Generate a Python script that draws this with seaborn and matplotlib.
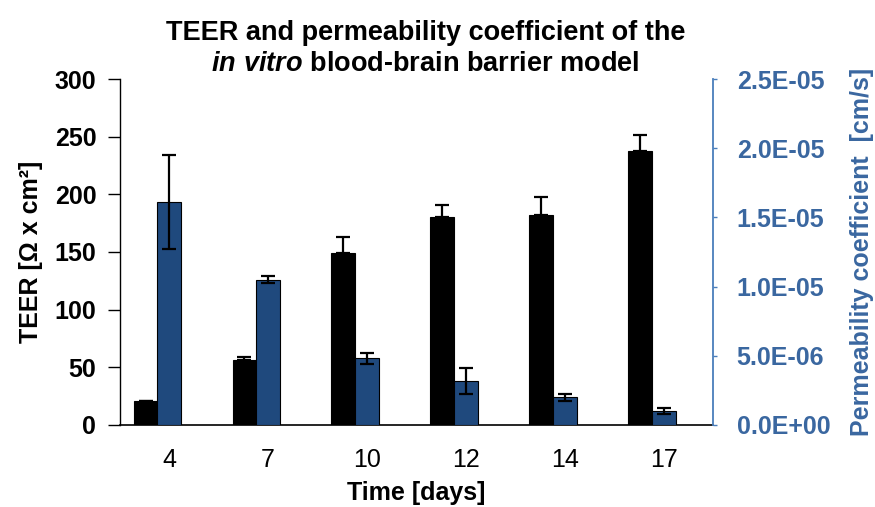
import numpy as np
import pandas as pd
import matplotlib
matplotlib.use("Agg")
import matplotlib.pyplot as plt
import seaborn as sns

days = ["4", "7", "10", "12", "14", "17"]
teer = [20.8, 56.4, 149.4, 180.6, 182.3, 237.8]
teer_err = [0.0, 2.4, 13.9, 10.4, 15.6, 13.9]
perm = [1.61e-05, 1.05e-05, 4.8e-06, 3.2e-06, 2.0e-06, 1.0e-06]
perm_err = [3.4e-06, 2.5e-07, 3.7e-07, 9.4e-07, 2.4e-07, 2.2e-07]

sns.set_style("white")
plt.rcParams["font.family"] = ["Liberation Sans", "DejaVu Sans"]
plt.rcParams["text.color"] = "black"
plt.rcParams["axes.labelcolor"] = "black"
plt.rcParams["xtick.color"] = "black"
plt.rcParams["ytick.color"] = "black"
plt.rcParams["mathtext.fontset"] = "custom"
plt.rcParams["mathtext.it"] = "Liberation Sans:italic:bold"
plt.rcParams["mathtext.rm"] = "Liberation Sans:bold"

BLUE_BAR = "#1f497d"
BLUE_AX = "#4a7ebb"
BLUE_TXT = "#3a67a0"
FS = 18

fig = plt.figure(figsize=(8.75, 5.07), dpi=100)
ax1 = fig.add_axes([0.137, 0.162, 0.678, 0.682])
ax2 = ax1.twinx()

idx = np.arange(len(days))
df = pd.DataFrame({"day": days, "teer": teer, "perm": perm,
                   "x_teer": idx - 0.24, "x_perm": idx + 0.0})

sns.barplot(data=df, x="x_teer", y="teer", native_scale=True, width=0.24,
            color="black", edgecolor="black", linewidth=0.8, saturation=1,
            errorbar=None, ax=ax1)
sns.barplot(data=df, x="x_perm", y="perm", native_scale=True, width=0.24,
            color=BLUE_BAR, edgecolor="black", linewidth=0.8, saturation=1,
            errorbar=None, ax=ax2)

ax1.errorbar(df["x_teer"], df["teer"], yerr=[np.zeros(len(days)), teer_err],
             fmt="none", ecolor="black", elinewidth=1.6, capsize=5, capthick=1.6)
ax2.errorbar(df["x_perm"], df["perm"], yerr=perm_err,
             fmt="none", ecolor="black", elinewidth=1.6, capsize=5, capthick=1.6)

for ax in (ax1, ax2):
    ax.set_xlim(-0.5, len(days) - 0.5)
    ax.set_xlabel("")
    ax.set_ylabel("")

ax1.set_ylim(0, 300)
ax2.set_ylim(0, 2.5e-05)
ax1.set_yticks(np.arange(0, 301, 50))
ax1.set_yticklabels([f"{v}" for v in range(0, 301, 50)], fontweight="bold", fontsize=FS)
p_ticks = np.arange(0, 2.51e-05, 5e-06)
ax2.set_yticks(p_ticks)
ax2.set_yticklabels(["0.0E+00", "5.0E-06", "1.0E-05", "1.5E-05", "2.0E-05", "2.5E-05"],
                    fontsize=FS, fontweight="bold", color=BLUE_TXT)

ax1.set_xticks(idx)
ax1.set_xticklabels(days, fontsize=FS)
ax1.set_xticks(np.arange(-0.5, len(days), 1.0), minor=True)
ax1.tick_params(axis="x", which="major", length=0, pad=17)
ax1.tick_params(axis="x", which="minor", length=9, width=1.2, direction="out", color="black")
ax1.tick_params(axis="y", length=9, width=1.0, direction="out", color="black", pad=8, left=True)
ax2.tick_params(axis="y", length=3, width=1.0, direction="out", color=BLUE_AX, pad=14, right=True)

ax1.spines["top"].set_visible(False)
ax2.spines["top"].set_visible(False)
ax1.spines["right"].set_visible(False)
ax2.spines["left"].set_visible(False)
ax2.spines["bottom"].set_visible(False)
ax1.spines["left"].set_color("black")
ax1.spines["bottom"].set_color("black")
ax1.spines["left"].set_linewidth(1.0)
ax1.spines["bottom"].set_linewidth(1.2)
ax2.spines["right"].set_color(BLUE_AX)
ax2.spines["right"].set_linewidth(1.3)

ax1.set_ylabel("TEER [Ω x cm²]", fontsize=FS, fontweight="bold", labelpad=8)
ax2.set_ylabel("Permeability coefficient  [cm/s]", fontsize=FS, fontweight="bold",
               color=BLUE_TXT, labelpad=14)
ax1.set_xlabel("Time [days]", fontsize=FS, fontweight="bold", labelpad=6)

fig.text(0.486, 0.934, "TEER and permeability coefficient of the", ha="center", va="center",
         fontsize=19.5, fontweight="bold")
fig.text(0.486, 0.874, r"$\it{in\ vitro}$ blood-brain barrier model", ha="center", va="center",
         fontsize=19.5, fontweight="bold")

fig.savefig("out.png", dpi=100)
